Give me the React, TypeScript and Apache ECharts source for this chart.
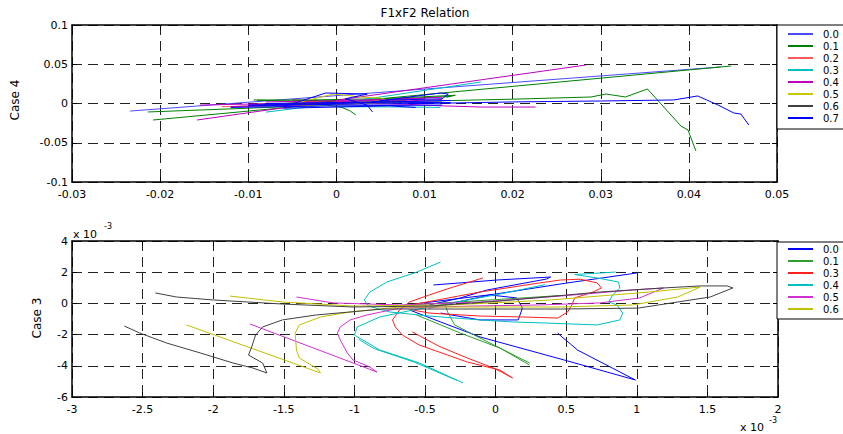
import React, { useEffect, useRef } from "react";
import * as echarts from "echarts";

type P = [number, number];

const FONT = "DejaVu Sans";

// ---------- Top panel: Case 4 ----------
const topNames = ["0.0", "0.1", "0.2", "0.3", "0.4", "0.5", "0.6", "0.7"];
const topColors = ["#4a4aff", "#008000", "#ff5a5a", "#00bfbf", "#bf00bf", "#c8c800", "#404040", "#0000ff"];

const case4_00: P[][] = [
  [[-0.0234, -0.0096], [0.0436, 0.0465]],
  [[-0.012, -0.004], [0.0, -0.0005], [0.012, 0.002]],
];
const case4_01: P[][] = [
  [[-0.0208, -0.021], [0.0448, 0.0478]],
  [[-0.0214, -0.0108], [-0.01, -0.006], [0.0, -0.001], [0.01, 0.003], [0.02, 0.0055], [0.0289, 0.0083], [0.0306, 0.0121], [0.0328, 0.0083], [0.0353, 0.0185], [0.0391, -0.0287], [0.0399, -0.0338], [0.0408, -0.0605]],
  [[-0.0094, 0.0045], [-0.003, 0.0045], [0.005, 0.006], [0.0135, 0.0105], [0.0125, 0.008]],
  [[-0.002, -0.001], [0.0005, -0.0045], [0.0015, -0.009], [0.0022, -0.0146]],
  [[-0.009, 0.004], [0.0, 0.002], [0.013, 0.009]],
];
const case4_02: P[][] = [
  [[-0.013, -0.004], [0.0, -0.001], [0.011, 0.003]],
  [[-0.005, 0.002], [0.008, 0.004]],
];
const case4_03: P[][] = [
  [[-0.008, -0.011], [0.0, 0.0], [0.0164, 0.0274]],
  [[0.0, -0.004], [0.008, -0.0045], [0.0118, -0.005]],
  [[-0.007, -0.002], [0.005, 0.001], [0.012, 0.004]],
];
const case4_04: P[][] = [
  [[-0.0158, -0.021], [0.0283, 0.049]],
  [[-0.0155, -0.002], [-0.002, 0.001], [0.008, -0.001], [0.012, -0.003], [0.0165, -0.0045], [0.0226, -0.0045]],
  [[-0.01, -0.0015], [0.0, 0.002], [0.012, 0.008]],
  [[-0.012, -0.004], [0.0, 0.0], [0.012, 0.005]],
  [[-0.008, 0.002], [0.01, 0.006]],
];
const case4_05: P[][] = [
  [[-0.008, -0.003], [-0.0041, 0.0019], [-0.0003, 0.0121], [0.003, 0.008], [0.005, 0.007], [0.0056, 0.0045], [0.002, 0.0]],
  [[-0.006, -0.004], [0.0, -0.001], [0.007, 0.001]],
];
const case4_06: P[][] = [
  [[-0.009, -0.001], [0.0, 0.001], [0.008, 0.003]],
  [[-0.005, 0.0045], [0.0, 0.003]],
];
const case4_07: P[][] = [
  [[-0.01, -0.003], [0.0, -0.001], [0.01, 0.0], [0.02, 0.002], [0.03, 0.0032], [0.0383, 0.0045], [0.041, 0.0096], [0.0433, -0.0019], [0.0451, -0.0121], [0.0459, -0.0134], [0.0468, -0.0274]],
  [[-0.006, -0.004], [-0.0012, 0.0134], [0.0035, 0.012], [0.001, 0.006], [0.0035, -0.002], [0.0041, -0.0108]],
  [[0.004, 0.002], [0.0118, 0.0134], [0.0127, 0.012], [0.012, 0.006], [0.005, 0.004]],
  [[-0.012, -0.005], [0.0, -0.003], [0.012, -0.002]],
  [[-0.01, -0.002], [0.0, 0.0], [0.013, 0.004]],
  [[-0.008, 0.0], [0.005, 0.002], [0.013, 0.001]],
  [[-0.006, -0.006], [0.006, -0.003], [0.009, -0.005]],
];
const case4Data = [case4_00, case4_01, case4_02, case4_03, case4_04, case4_05, case4_06, case4_07];

// ---------- Bottom panel: Case 3 (x 10^-3 on both axes) ----------
const botNames = ["B0.0", "B0.1", "B0.3", "B0.4", "B0.5", "B0.6"];
const botColors = ["#0000ff", "#2f9f2f", "#ff2020", "#00bfbf", "#d030d0", "#c0c000"];
const botExtraName = "B0.7";
const botExtraColor = "#404040";

const case3_00: P[][] = [
  [[-0.54, 0.0], [0.0, 0.6], [0.5, 1.3], [1.0, 1.95]],
  [[-0.44, 1.18], [0.01, 1.5], [0.39, 1.69], [0.36, 1.56], [-0.06, 0.86], [-0.25, 0.35], [-0.47, -0.1]],
  [[-0.47, -0.3], [-0.04, 0.54], [0.15, 0.35], [0.19, -0.3], [0.16, -1.06], [-0.11, -1.06], [-0.39, -0.62]],
  [[-0.61, -0.42], [-0.39, -1.19], [-0.11, -2.15], [0.51, -3.69], [0.99, -4.91], [0.58, -2.99], [0.53, -2.6], [0.47, -2.15], [0.44, -1.9]],
];
const case3_01: P[][] = [
  [[-0.56, -0.74], [-0.25, -1.9], [0.03, -2.86], [0.24, -3.95]],
  [[-0.36, 0.03], [-0.34, -0.55], [-0.29, -1.38], [-0.11, -2.22], [0.24, -3.82]],
  [[-0.6, -0.1], [0.1, 0.3], [0.45, 0.5]],
];
const case3_03: P[][] = [
  [[-0.09, 1.63], [-0.3, 1.05], [-0.47, 0.54], [-0.61, 0.09], [-0.68, -0.42], [-0.73, -1.06], [-0.71, -1.51], [-0.66, -2.03], [-0.54, -2.67], [-0.34, -3.31], [-0.2, -3.76], [0.03, -4.27], [0.12, -4.78]],
  [[-0.59, -1.83], [-0.4, -2.75], [-0.2, -3.5], [0.0, -4.2], [0.12, -4.78]],
  [[-0.6, -0.1], [-0.11, 0.73], [0.31, 1.31], [0.46, 1.5], [0.6, 1.55], [0.72, 1.31], [0.75, 0.99], [0.69, 0.73], [0.56, 0.35], [0.54, -0.1], [0.51, -0.55], [0.44, -0.94], [0.19, -0.87], [-0.11, -0.81], [-0.47, -0.62], [-0.6, -0.4]],
];
const case3_04: P[][] = [
  [[-0.39, 2.65], [-0.56, 2.0], [-0.77, 1.37], [-0.89, 0.73], [-0.93, 0.22], [-0.9, -0.17], [-0.75, -0.55], [-0.47, -0.81], [-0.11, -1.06], [0.12, -1.19], [0.36, -1.26], [0.72, -1.38], [0.88, -1.06], [0.9, -0.62], [0.86, -0.1], [0.8, 0.09], [0.83, 0.54], [0.88, 0.99], [0.87, 1.37], [0.72, 1.63], [0.56, 1.85], [0.85, 2.01]],
  [[-0.23, -5.1], [-0.54, -3.82], [-0.82, -2.99], [-0.94, -2.35], [-1.0, -2.03], [-0.98, -1.51], [-0.82, -0.87], [-0.6, -0.45], [-0.3, 0.05], [0.03, 0.6], [0.35, 1.2]],
  [[-0.27, -4.95], [-0.58, -3.75], [-0.86, -2.9], [-0.97, -2.3]],
];
const case3_05: P[][] = [
  [[-1.41, 0.41], [-1.15, 0.03], [-0.68, -0.1], [-0.11, 0.09], [0.46, 0.47], [0.97, 0.86], [1.19, 0.99], [1.02, 0.35], [0.74, 0.03], [0.31, -0.1], [-0.18, -0.17], [-0.68, -0.3], [-0.91, -0.74], [-1.03, -1.06], [-1.1, -1.51], [-1.12, -1.9], [-1.1, -2.35], [-1.05, -3.18], [-1.01, -3.63], [-0.89, -4.08], [-0.84, -4.4], [-1.74, -1.32]],
];
const case3_06: P[][] = [
  [[-1.88, 0.47], [-1.51, 0.09], [-1.01, -0.17], [-0.32, -0.1], [0.39, 0.22], [1.09, 0.73], [1.45, 1.05], [1.29, 0.41], [0.97, -0.1], [0.46, -0.23], [-0.11, -0.23], [-0.68, -0.23], [-1.03, -0.55], [-1.24, -0.87], [-1.39, -1.38], [-1.42, -1.9], [-1.41, -2.99], [-1.39, -3.5], [-1.26, -4.2], [-1.24, -4.46], [-2.19, -1.38]],
];
const case3_07: P[][] = [
  [[-2.41, 0.67], [-2.26, 0.41], [-2.0, 0.22], [-1.51, -0.04], [-1.01, -0.23], [-0.47, -0.17], [0.03, 0.15], [0.74, 0.73], [1.19, 0.99], [1.45, 1.12], [1.64, 1.12], [1.68, 0.99], [1.52, 0.41], [1.01, -0.3], [0.46, -0.36], [-0.11, -0.36], [-0.54, -0.36], [-0.8, -0.36], [-1.03, -0.55], [-1.27, -0.74], [-1.51, -1.06], [-1.65, -1.51], [-1.7, -2.03], [-1.73, -2.86], [-1.75, -3.31], [-1.65, -3.82], [-1.62, -4.46], [-1.72, -4.14], [-1.86, -3.82], [-2.09, -3.18], [-2.33, -2.54], [-2.52, -1.9], [-2.63, -1.45]],
];
const case3Data = [case3_00, case3_01, case3_03, case3_04, case3_05, case3_06];

const mk = (name: string, segs: P[][], color: string, axis: number) =>
  segs.map((seg) => ({
    type: "line",
    name,
    xAxisIndex: axis,
    yAxisIndex: axis,
    data: seg,
    symbol: "none",
    showSymbol: false,
    silent: true,
    clip: true,
    lineStyle: { color, width: 1 },
    itemStyle: { color },
    emphasis: { disabled: true },
  }));

const fmt = (v: number) => String(Math.round(v * 1000) / 1000);

const dash = { type: [10, 6], color: "#222", width: 1 };

function xAxes(grid: number, min: number, max: number, interval: number) {
  const line = { show: true, onZero: false, lineStyle: { color: "#000", width: 1.5 } };
  return [
    {
      type: "value", gridIndex: grid, position: "bottom", min, max, interval,
      axisLine: line,
      axisTick: { show: true, inside: true, length: 5, lineStyle: { color: "#000" } },
      axisLabel: { margin: 7, fontSize: 11, lineHeight: 11, color: "#000", fontFamily: FONT, formatter: fmt, showMinLabel: true, showMaxLabel: true },
      splitLine: { show: true, lineStyle: dash },
    },
    {
      type: "value", gridIndex: grid, position: "top", min, max, interval,
      axisLine: line,
      axisTick: { show: true, inside: true, length: 5, lineStyle: { color: "#000" } },
      axisLabel: { show: false },
      splitLine: { show: false },
    },
  ];
}

function yAxes(grid: number, min: number, max: number, interval: number) {
  const line = { show: true, onZero: false, lineStyle: { color: "#000", width: 1.5 } };
  return [
    {
      type: "value", gridIndex: grid, position: "left", min, max, interval,
      axisLine: line,
      axisTick: { show: true, inside: true, length: 5, lineStyle: { color: "#000" } },
      axisLabel: { margin: 4, fontSize: 11, lineHeight: 11, color: "#000", fontFamily: FONT, formatter: fmt, showMinLabel: true, showMaxLabel: true },
      splitLine: { show: true, lineStyle: dash },
    },
    {
      type: "value", gridIndex: grid, position: "right", min, max, interval,
      axisLine: line,
      axisTick: { show: true, inside: true, length: 5, lineStyle: { color: "#000" } },
      axisLabel: { show: false },
      splitLine: { show: false },
    },
  ];
}

const legendBase = {
  orient: "vertical",
  left: 777,
  itemWidth: 25,
  itemHeight: 2,
  itemGap: 0,
  icon: "rect",
  borderColor: "#000",
  borderWidth: 1,
  backgroundColor: "#fff",
  selectedMode: false,
  formatter: (name: string) => name.replace(/^B/, ""),
  textStyle: { fontSize: 10, color: "#000", fontFamily: FONT, lineHeight: 12, padding: [0, 0, 0, 5] },
};

export default function App() {
  const ref = useRef<HTMLDivElement>(null);
  useEffect(() => {
    if (!ref.current) return;
    const chart = echarts.init(ref.current, undefined, { renderer: "svg" });
    const series: any[] = [];
    topNames.forEach((n, i) => series.push(...mk(n, case4Data[i], topColors[i], 0)));
    botNames.forEach((n, i) => series.push(...mk(n, case3Data[i], botColors[i], 2)));
    series.push(...mk(botExtraName, case3_07, botExtraColor, 2));

    chart.setOption({
      animation: false,
      backgroundColor: "#fff",
      textStyle: { fontFamily: FONT },
      grid: [
        { left: 72, top: 25, width: 705, height: 157 },
        { left: 72, top: 241, width: 706, height: 156 },
      ],
      xAxis: [...xAxes(0, -0.03, 0.05, 0.01), ...xAxes(1, -3, 2, 0.5)],
      yAxis: [...yAxes(0, -0.1, 0.1, 0.05), ...yAxes(1, -6, 4, 2)],
      legend: [
        { ...legendBase, data: topNames, top: 25, padding: [3, 30, 5, 11] },
        { ...legendBase, data: botNames, top: 242, padding: [1, 30, 4, 11] },
      ],
      graphic: [
        { type: "text", x: 425, y: 13, style: { text: "F1xF2 Relation", fontSize: 12, fontFamily: FONT, fill: "#000", textAlign: "center", textVerticalAlign: "middle" } },
        { type: "text", x: 15, y: 100, rotation: Math.PI / 2, style: { text: "Case 4", fontSize: 12, fontFamily: FONT, fill: "#000", textAlign: "center", textVerticalAlign: "middle" } },
        { type: "text", x: 37, y: 318, rotation: Math.PI / 2, style: { text: "Case 3", fontSize: 12, fontFamily: FONT, fill: "#000", textAlign: "center", textVerticalAlign: "middle" } },
        { type: "text", x: 73, y: 234, style: { text: "x 10", fontSize: 11, fontFamily: FONT, fill: "#000", textAlign: "left", textVerticalAlign: "middle" } },
        { type: "text", x: 104, y: 226, style: { text: "-3", fontSize: 8, fontFamily: FONT, fill: "#000", textAlign: "left", textVerticalAlign: "middle" } },
        { type: "text", x: 740, y: 427, style: { text: "x 10", fontSize: 11, fontFamily: FONT, fill: "#000", textAlign: "left", textVerticalAlign: "middle" } },
        { type: "text", x: 769, y: 420, style: { text: "-3", fontSize: 8, fontFamily: FONT, fill: "#000", textAlign: "left", textVerticalAlign: "middle" } },
      ],
      series,
    });
    return () => chart.dispose();
  }, []);
  return <div ref={ref} style={{ position: "absolute", left: 0, top: 0, width: 843, height: 434 }} />;
}
